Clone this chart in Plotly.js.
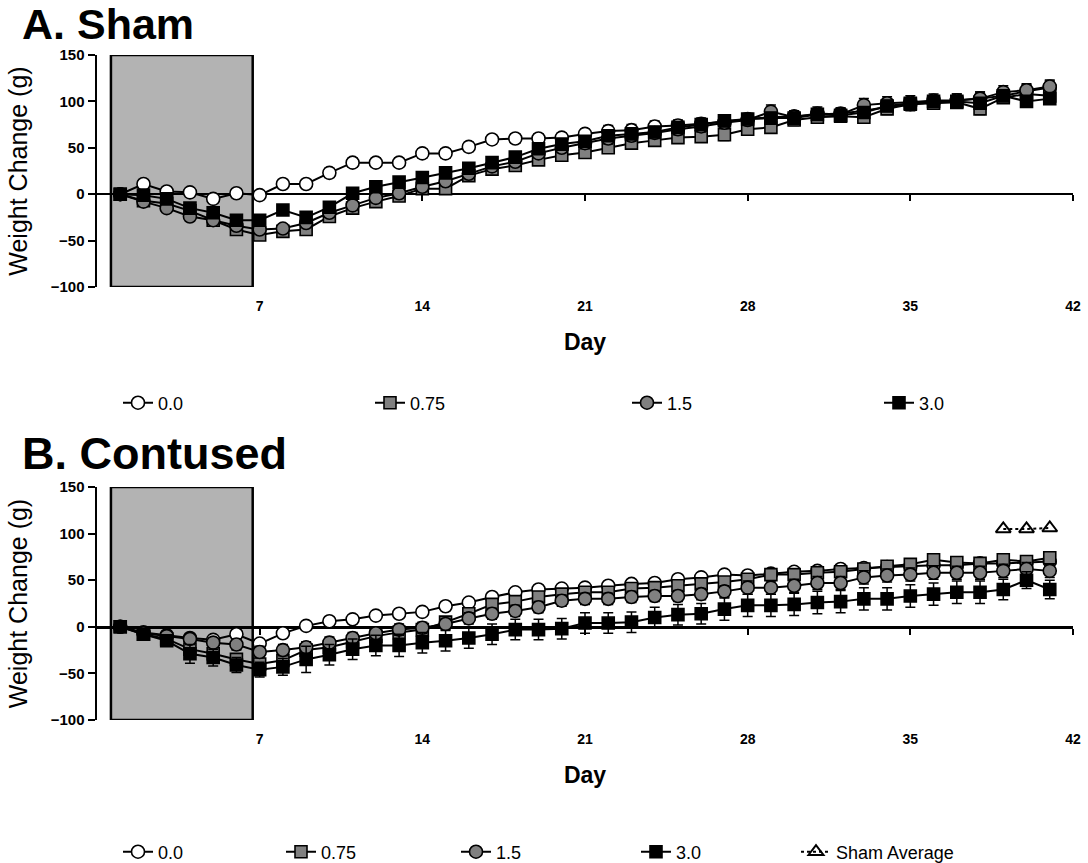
<!DOCTYPE html>
<html>
<head>
<meta charset="utf-8">
<script src="https://cdn.plot.ly/plotly-3.0.1.min.js"></script>
<style>html,body{margin:0;padding:0;background:#fff;}#chart{width:1088px;height:863px;}</style>
</head>
<body>
<div id="chart"></div>
<script>
// ---------- DATA ----------
const days = [1,2,3,4,5,6,7,8,9,10,11,12,13,14,15,16,17,18,19,20,21,22,23,24,25,26,27,28,29,30,31,32,33,34,35,36,37,38,39,40,41];
const seriesNames = ['0.0', '0.75', '1.5', '3.0'];
const xTicks = [7, 14, 21, 28, 35, 42];
const yTicks = [-100, -50, 0, 50, 100, 150];

// A. Sham
const sham00  = [0,11,3,2,-5,1,-1,11,11,23,34,34,34,44,44,51,59,60,60,61,65,68,69,73,74,76,78,81,83,84,86,87,90,94,97,99,101,103,106,111,115];
const sham075 = [0,-7,-10,-18,-28,-38,-44,-40,-38,-24,-15,-8,-2,6,6,20,27,31,37,42,45,50,55,58,61,62,64,70,72,80,83,84,83,92,97,98,99,92,104,108,106];
const sham15  = [0,-8,-15,-24,-28,-34,-38,-37,-31,-20,-12,-4,1,8,14,22,30,35,44,50,55,60,63,66,70,73,77,80,89,83,87,86,96,98,99,101,101,103,110,112,116];
const sham30  = [0,-1,-5,-15,-20,-28,-28,-17,-25,-14,1,8,13,18,23,28,34,40,49,54,57,63,65,67,72,75,79,81,82,82,86,85,88,95,98,100,100,98,106,100,103];
const shamErr00  = [0,3,3,3,4,4,4,4,4,5,5,5,5,5,5,5,5,5,5,5,5,6,6,6,6,6,6,6,6,6,6,6,6,7,7,7,7,7,7,7,7];
const shamErr075 = [0,2,3,3,4,4,4,4,5,5,5,5,5,5,5,5,5,5,5,5,5,5,5,5,5,6,6,6,6,6,6,6,6,6,6,6,6,6,6,6,6];
const shamErr15  = [0,2,3,3,3,4,4,4,4,4,5,5,5,5,5,5,5,5,5,5,6,6,6,6,6,6,6,6,7,7,7,7,7,7,7,7,7,7,7,7,7];
const shamErr30  = [0,2,2,3,3,4,4,4,4,4,4,5,5,5,5,5,5,5,5,5,5,5,5,6,6,6,6,6,6,6,6,6,6,6,6,6,6,6,6,6,6];

// B. Contused
const con00  = [0,-6,-9,-12,-14,-8,-18,-7,1,6,8,12,14,16,22,26,32,37,40,41,42,44,46,47,51,53,56,55,57,59,60,62,63,64,65,66,66,68,68,69,70];
const con075 = [0,-8,-13,-24,-29,-35,-40,-36,-25,-22,-16,-10,-6,-3,5,14,24,27,32,35,37,37,41,42,44,46,48,51,56,56,58,59,62,65,67,72,69,68,72,70,74];
const con15  = [0,-7,-10,-13,-17,-19,-27,-25,-22,-17,-12,-7,-3,-1,3,9,14,17,21,28,30,30,32,33,33,35,38,42,42,44,47,47,53,55,56,58,58,58,60,62,60];
const con30  = [0,-8,-15,-29,-33,-41,-46,-43,-35,-30,-24,-20,-20,-17,-15,-12,-8,-3,-3,-2,4,4,5,10,13,14,19,23,23,24,26,27,30,30,33,35,37,37,40,50,40];
const conErr00  = [0,3,3,3,3,4,4,4,4,4,4,4,4,4,4,4,4,4,4,4,4,4,4,4,4,4,4,4,4,4,4,4,4,4,4,4,4,4,4,4,4];
const conErr075 = [0,3,4,5,5,5,5,6,6,6,5,5,5,5,5,5,5,5,5,5,5,5,5,5,5,5,5,5,5,5,5,5,5,5,5,5,5,5,5,5,5];
const conErr15  = [0,3,4,5,5,6,6,6,6,6,6,6,6,6,6,6,6,6,6,6,6,6,6,6,6,6,6,7,7,7,7,7,7,7,7,7,7,7,7,7,7];
const conErr30  = [0,4,6,10,9,8,8,9,14,11,11,11,12,11,11,11,11,11,11,11,11,11,11,11,11,11,12,12,12,12,12,12,12,12,12,12,12,12,11,9,10];
const shamAvgDays = [39, 40, 41];
const shamAvg     = [105, 105, 106];

// ---------- STYLE ----------
const FONT = 'Liberation Sans, Arial, Helvetica, sans-serif';
const styles = [
  {symbol: 'circle', fill: '#ffffff', size: 13},
  {symbol: 'square', fill: '#808080', size: 12},
  {symbol: 'circle', fill: '#808080', size: 13},
  {symbol: 'square', fill: '#000000', size: 12}
];

function mkTrace(name, y, err, st, xa, ya, legendId) {
  return {
    type: 'scatter', mode: 'lines+markers', name: name,
    x: days, y: y, xaxis: xa, yaxis: ya, legend: legendId,
    line: {color: '#000', width: 2},
    marker: {symbol: st.symbol, size: st.size, color: st.fill, line: {color: '#000', width: 1.6}},
    error_y: {type: 'data', array: err, visible: true, color: '#000', thickness: 1.5, width: 5},
    cliponaxis: false
  };
}

const traces = [
  mkTrace(seriesNames[0], sham00,  shamErr00,  styles[0], 'x', 'y', 'legend'),
  mkTrace(seriesNames[1], sham075, shamErr075, styles[1], 'x', 'y', 'legend2'),
  mkTrace(seriesNames[2], sham15,  shamErr15,  styles[2], 'x', 'y', 'legend3'),
  mkTrace(seriesNames[3], sham30,  shamErr30,  styles[3], 'x', 'y', 'legend4'),
  mkTrace(seriesNames[0], con00,  conErr00,  styles[0], 'x2', 'y2', 'legend5'),
  mkTrace(seriesNames[1], con075, conErr075, styles[1], 'x2', 'y2', 'legend6'),
  mkTrace(seriesNames[2], con15,  conErr15,  styles[2], 'x2', 'y2', 'legend7'),
  mkTrace(seriesNames[3], con30,  conErr30,  styles[3], 'x2', 'y2', 'legend8'),
  {
    type: 'scatter', mode: 'lines+markers', name: 'Sham Average',
    x: shamAvgDays, y: shamAvg, xaxis: 'x2', yaxis: 'y2', legend: 'legend9',
    line: {color: '#000', width: 2, dash: 'dot'},
    marker: {symbol: 'triangle-up-open', size: 13, color: '#000', line: {width: 2}},
    cliponaxis: false
  }
];

function xAxis(pos) {
  return {
    domain: [0, 1], range: [0, 42], anchor: 'free', position: pos,
    showline: true, linecolor: '#000', linewidth: 2.5, layer: 'below traces',
    ticks: 'outside', ticklen: 6, tickwidth: 2, tickcolor: '#000',
    tickmode: 'array', tickvals: xTicks, ticklabelstandoff: 93,
    tickfont: {family: FONT, size: 14, color: '#000', weight: 'bold'},
    showgrid: false, zeroline: false, automargin: false,
    title: {text: 'Day', font: {family: FONT, size: 23, color: '#000', weight: 'bold'}, standoff: 20}
  };
}
function yAxis(dom, anchor) {
  return {
    domain: dom, range: [-100, 150], anchor: anchor,
    showline: true, linecolor: '#000', linewidth: 2.5,
    ticks: 'outside', ticklen: 7, tickwidth: 2, tickcolor: '#000',
    tickmode: 'array', tickvals: yTicks, automargin: false,
    tickfont: {family: FONT, size: 15, color: '#000', weight: 'bold'},
    showgrid: false, zeroline: false,
    title: {text: 'Weight Change (g)', font: {family: FONT, size: 25, color: '#000'}, standoff: 16}
  };
}
function leg(cx, cy) {
  return {x: cx, y: cy, xref: 'container', yref: 'container', xanchor: 'left', yanchor: 'middle',
          bgcolor: 'rgba(0,0,0,0)', borderwidth: 0, font: {family: FONT, size: 18, color: '#000'},
          itemwidth: 30, orientation: 'h'};
}
const W = 1088, H = 863;
const topLegY = (H - 403) / H, botLegY = (H - 852) / H;
const symOff = 19;
// plot area in pixels: x 97..1073, y 55..720
const px2paperX = (p) => (p - 97) / 976;
const px2paperY = (p) => (720 - p) / 665;

const layout = {
  width: W, height: H,
  margin: {l: 97, r: 15, t: 55, b: 143, autoexpand: false},
  paper_bgcolor: '#fff', plot_bgcolor: '#fff',
  showlegend: true,
  xaxis: xAxis(0.791),
  yaxis: yAxis([0.6511, 1], 'x'),
  xaxis2: xAxis(0.1398),
  yaxis2: yAxis([0, 0.3504], 'x2'),
  legend:  leg((137 - symOff) / W, topLegY),
  legend2: leg((389 - symOff) / W, topLegY),
  legend3: leg((646 - symOff) / W, topLegY),
  legend4: leg((898 - symOff) / W, topLegY),
  legend5: leg((137 - symOff) / W, botLegY),
  legend6: leg((300 - symOff) / W, botLegY),
  legend7: leg((475 - symOff) / W, botLegY),
  legend8: leg((655 - symOff) / W, botLegY),
  legend9: leg((815 - symOff) / W, botLegY),
  shapes: [
    {type: 'rect', xref: 'x', yref: 'y', x0: 0.6, x1: 6.7, y0: -100, y1: 150,
     fillcolor: '#b3b3b3', line: {color: '#000', width: 2.5}, layer: 'below'},
    {type: 'rect', xref: 'x2', yref: 'y2', x0: 0.6, x1: 6.7, y0: -100, y1: 150,
     fillcolor: '#b3b3b3', line: {color: '#000', width: 2.5}, layer: 'below'}
  ],
  annotations: [
    {text: 'A. Sham', xref: 'paper', yref: 'paper', x: px2paperX(20), y: px2paperY(24), xanchor: 'left', yanchor: 'middle',
     showarrow: false, font: {family: FONT, size: 43, color: '#000', weight: 'bold'}},
    {text: 'B. Contused', xref: 'paper', yref: 'paper', x: px2paperX(20), y: px2paperY(453), xanchor: 'left', yanchor: 'middle',
     showarrow: false, font: {family: FONT, size: 45, color: '#000', weight: 'bold'}}
  ]
};

Plotly.newPlot('chart', traces, layout, {staticPlot: true, displayModeBar: false});
</script>
</body>
</html>
